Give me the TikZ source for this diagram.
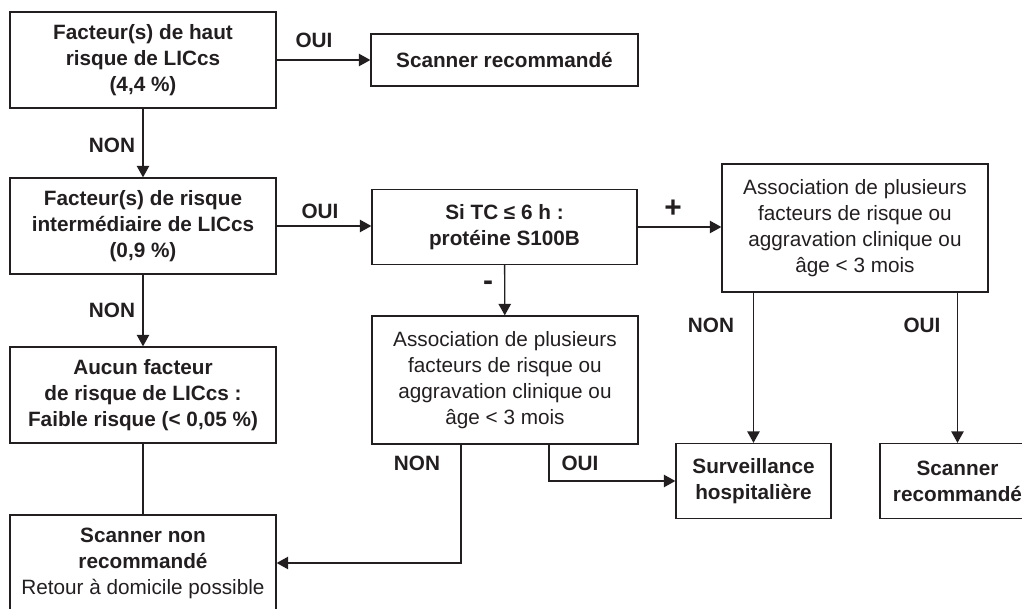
\documentclass[tikz,border=0pt]{standalone}
\usepackage{fontspec}
\setmainfont{Liberation Sans}
\usetikzlibrary{arrows.meta, positioning}
\definecolor{ink}{RGB}{35,31,32}

\begin{document}
\begin{tikzpicture}[x=0.02cm, y=-0.02cm,
    every node/.style={font=\fontsize{11.8}{14.8}\selectfont, text=ink},
    box/.style={draw=ink, line width=0.75pt, align=center, inner sep=0pt},
    lbl/.style={font=\fontsize{11.8}{14.8}\selectfont\bfseries},
    sign/.style={font=\fontsize{17}{17}\selectfont\bfseries},
    arr/.style={-{Triangle[length=6.5pt, width=7pt]}, line width=0.75pt, draw=ink},
    ln/.style={line width=0.75pt, draw=ink}]
    \useasboundingbox (0,0) rectangle (1022,609);

    % left column
    \node[box, minimum width=5.32cm, minimum height=1.92cm] (haut) at (143,60) {\bfseries Facteur(s) de haut\\\bfseries risque de LICcs\\\bfseries (4,4 \%)};
    \node[box, minimum width=5.32cm, minimum height=1.92cm] (inter) at (143,226) {\bfseries Facteur(s) de risque\\\bfseries intermédiaire de LICcs\\\bfseries (0,9 \%)};
    \node[box, minimum width=5.32cm, minimum height=1.92cm] (aucun) at (143,395) {\bfseries Aucun facteur\\\bfseries de risque de LICcs :\\\bfseries Faible risque (< 0,05 \%)};
    \node[box, minimum width=5.32cm, minimum height=1.92cm] (nonrec) at (143,563) {\bfseries Scanner non\\\bfseries recommandé\\Retour à domicile possible};

    % middle column
    \node[box, minimum width=5.34cm, minimum height=1.04cm] (scan1) at (504.5,60) {\bfseries Scanner recommandé};
    \node[box, minimum width=5.3cm, minimum height=1.5cm] (s100) at (504.5,227) {\bfseries Si TC ≤ 6 h :\\\bfseries protéine S100B};
    \node[box, minimum width=5.32cm, minimum height=2.56cm] (assoc1) at (505,380) {Association de plusieurs\\facteurs de risque ou\\aggravation clinique ou\\âge < 3 mois};

    % right column
    \node[box, minimum width=5.32cm, minimum height=2.56cm] (assoc2) at (855,228) {Association de plusieurs\\facteurs de risque ou\\aggravation clinique ou\\âge < 3 mois};
    \node[box, minimum width=3.1cm, minimum height=1.5cm] (surv) at (753.5,481) {\bfseries Surveillance\\\bfseries hospitalière};
    \node[box, minimum width=3.1cm, minimum height=1.5cm] (scan2) at (957.5,481) {\bfseries Scanner\\\bfseries recommandé};

    % connectors
    \draw[arr] (haut) -- (scan1);
    \draw[arr] (haut) -- (inter);
    \draw[arr] (inter) -- (inter -| s100.west);
    \draw[arr] (inter) -- (aucun);
    \draw[ln] (aucun) -- (nonrec);
    \draw[arr] (s100) -- (s100 -| assoc2.west);
    \draw[arr] (s100) -- (assoc1);
    \draw[arr] (assoc2.south -| surv.north) -- (surv.north);
    \draw[arr] (assoc2.south -| scan2.north) -- (scan2.north);
    \draw[arr] ([xshift=-0.88cm]assoc1.south) |- (nonrec.east);
    \draw[arr] ([xshift=0.88cm]assoc1.south) |- (surv.west);

    % labels
    \node[lbl] (oui1) at (314,40) {OUI};
    \node[lbl] (non1) at (112,145) {NON};
    \node[lbl] (oui2) at (320,211) {OUI};
    \node[lbl] (non2) at (112,310) {NON};
    \node[sign] (plus) at (673,209) {+};
    \node[sign] (moins) at (488,286) {-};
    \node[lbl] (non3) at (711,325) {NON};
    \node[lbl] (oui3) at (922,325) {OUI};
    \node[lbl] (non4) at (417,463) {NON};
    \node[lbl] (oui4) at (580,463) {OUI};
\end{tikzpicture}
\end{document}
